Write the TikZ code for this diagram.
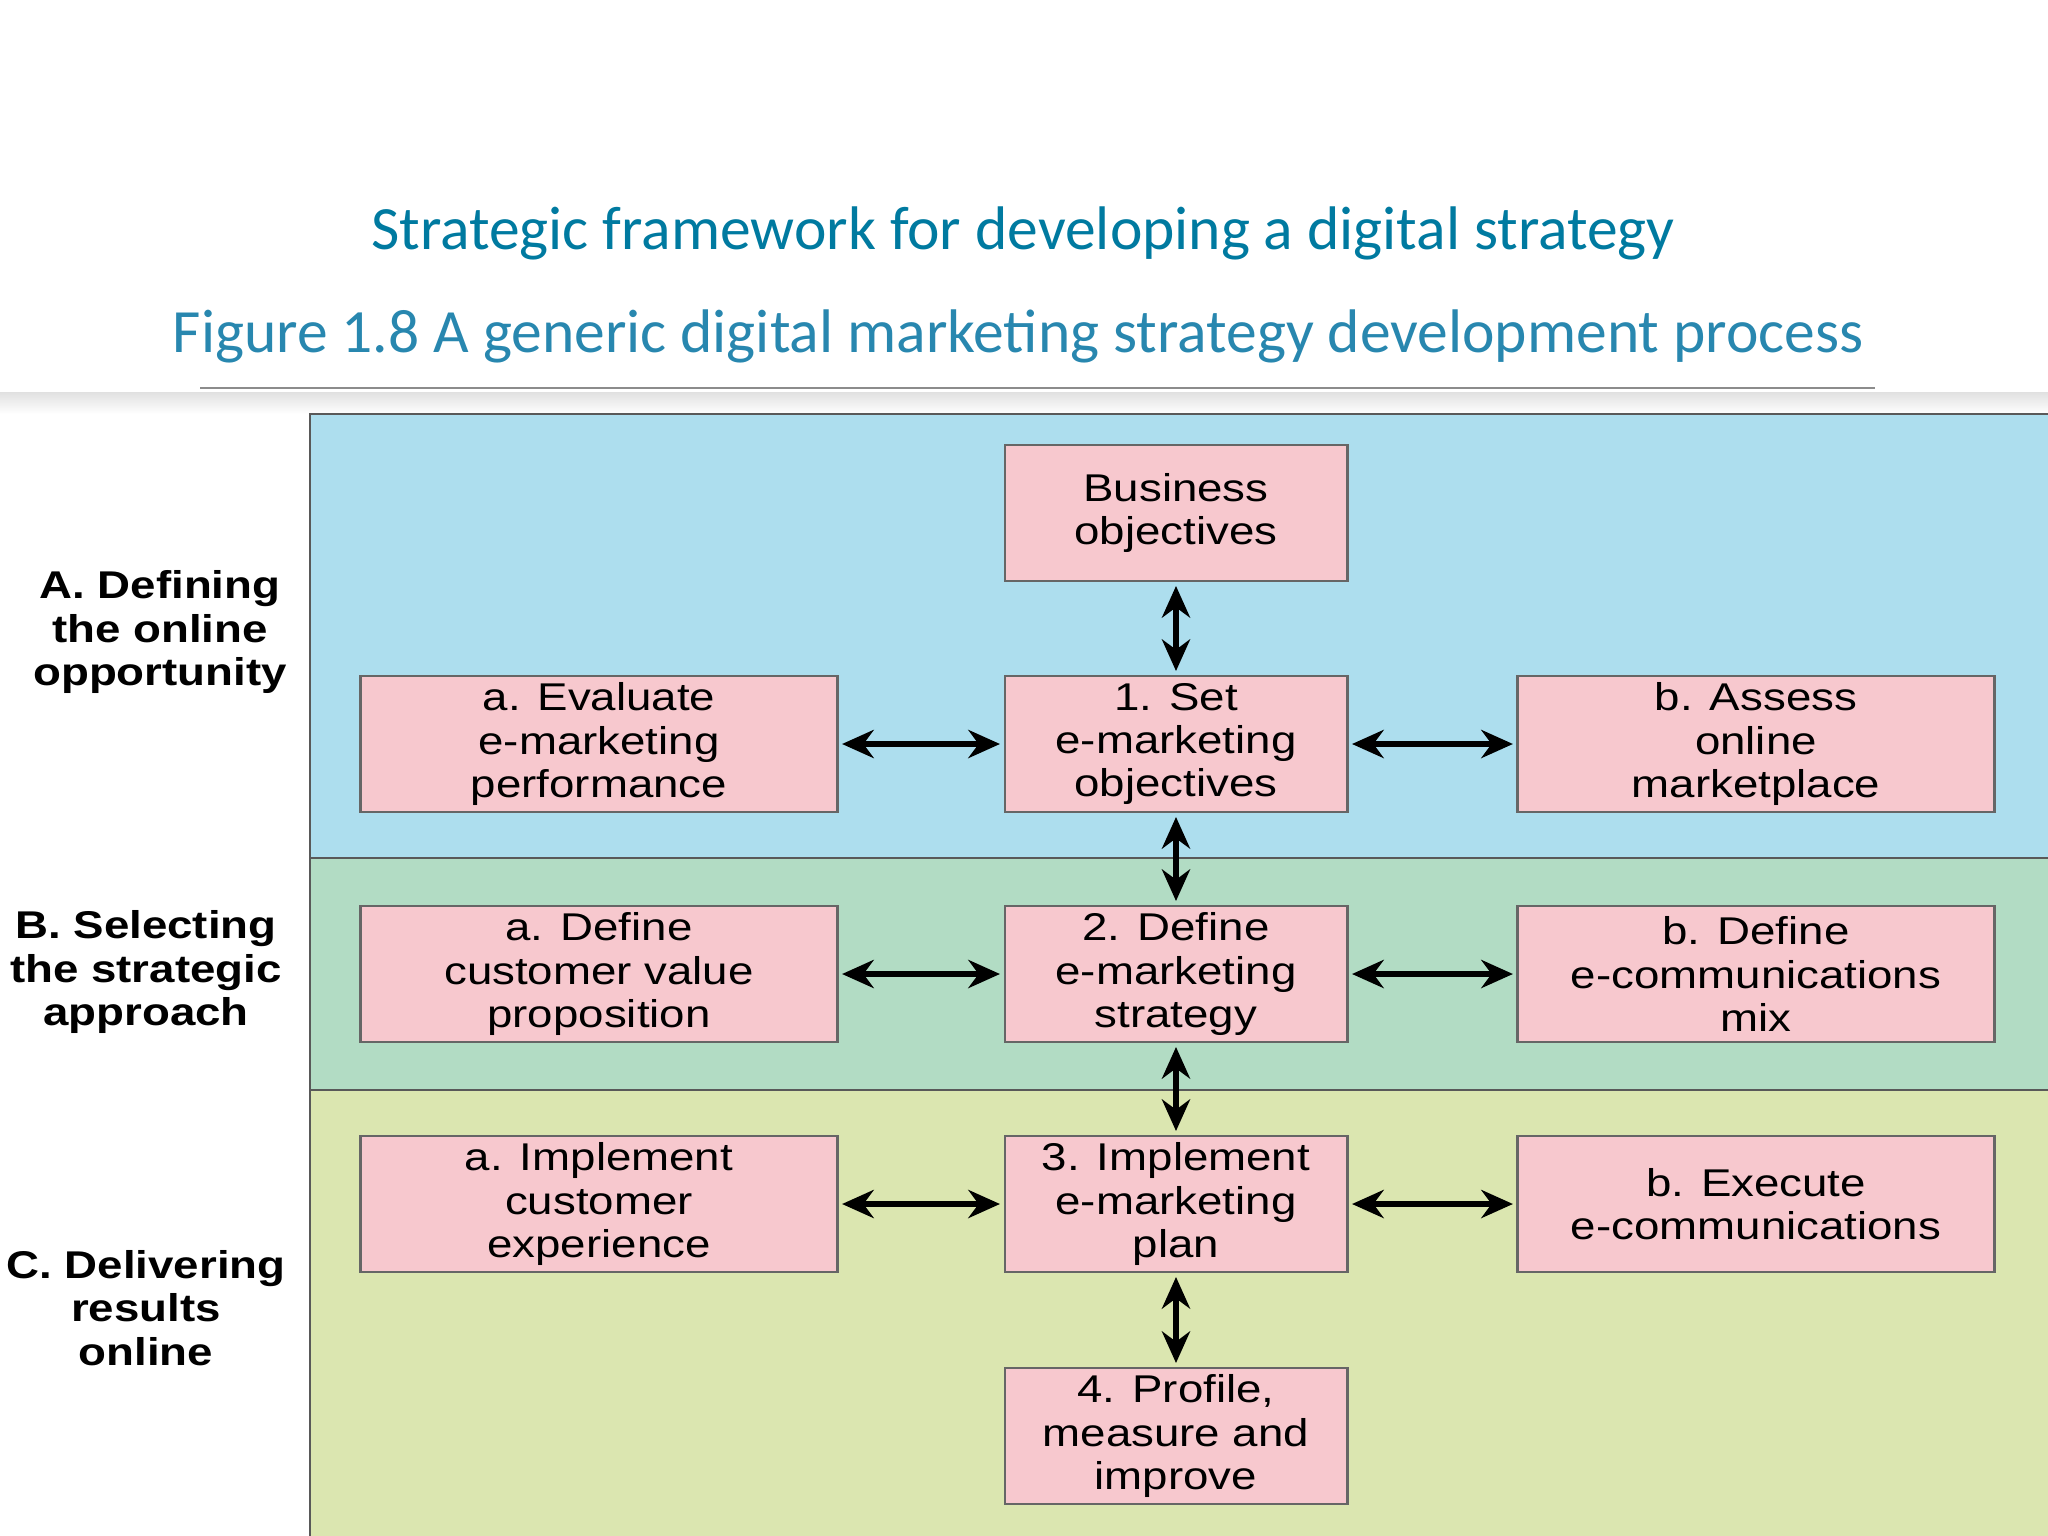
\documentclass[tikz,border=0pt]{standalone}
\usepackage{fontspec}
\setmainfont{Liberation Sans}[FakeStretch=1.18]
\newfontfamily\carlitofont{Carlito}
\usetikzlibrary{arrows.meta}
\definecolor{teal1}{RGB}{0,122,160}
\definecolor{teal2}{RGB}{40,135,175}
\definecolor{bA}{RGB}{173,222,238}
\definecolor{bB}{RGB}{178,220,196}
\definecolor{bC}{RGB}{219,230,176}
\definecolor{pk}{RGB}{247,200,206}
\begin{document}
\begin{tikzpicture}[x=0.01cm,y=-0.01cm,
 box/.style={draw=black!60,line width=0.8pt,fill=pk,minimum width=3.42cm,minimum height=1.36cm,align=center,inner sep=1pt,font=\fontsize{11}{12.3}\selectfont},
 wbox/.style={box,minimum width=4.76cm},
 lab/.style={align=center,font=\fontsize{11}{12.3}\selectfont\bfseries},
 arr/.style={{Stealth[length=9pt,width=8pt]}-{Stealth[length=9pt,width=8pt]},line width=1.6pt,shorten >=1pt,shorten <=1pt}]
\useasboundingbox (0,0) rectangle (2048,1536);
\node[font=\carlitofont\fontsize{17.5}{21}\selectfont,text=teal1] (t) at (1023,233) {Strategic framework for developing a digital strategy};
\node[font=\carlitofont\fontsize{17.5}{21}\selectfont,text=teal2] (st) at (1018,336) {Figure 1.8 A generic digital marketing strategy development process};
\draw[black!45,line width=0.8pt] (200,388) -- (1875,388);
\shade[top color=black!12,bottom color=white] (0,392) rectangle (2048,414);
\fill[bA] (310,414) rectangle (2048,858);
\fill[bB] (310,858) rectangle (2048,1090);
\fill[bC] (310,1090) rectangle (2048,1536);
\draw[black!65,line width=0.8pt] (2048,414) -- (310,414) -- (310,1536);
\draw[black!65,line width=0.8pt] (310,858) -- (2048,858) (310,1090) -- (2048,1090);
\node[box] (bo) at (1176,513) {Business\\objectives};
\node[wbox] (a1) at (599,744) {a. Evaluate\\e-marketing\\performance};
\node[box] (c1) at (1176,744) {1. Set\\e-marketing\\objectives};
\node[wbox] (b1) at (1756,744) {b. Assess\\online\\marketplace};
\node[wbox] (a2) at (599,974) {a. Define\\customer value\\proposition};
\node[box] (c2) at (1176,974) {2. Define\\e-marketing\\strategy};
\node[wbox] (b2) at (1756,974) {b. Define\\e-communications\\mix};
\node[wbox] (a3) at (599,1204) {a. Implement\\customer\\experience};
\node[box] (c3) at (1176,1204) {3. Implement\\e-marketing\\plan};
\node[wbox] (b3) at (1756,1204) {b. Execute\\e-communications};
\node[box] (c4) at (1176,1436) {4. Profile,\\measure and\\improve};
\node[lab] (la) at (160,632) {A. Defining\\the online\\opportunity};
\node[lab] (lb) at (146,972) {B. Selecting\\the strategic\\approach};
\node[lab] (lc) at (146,1308) {C. Delivering\\results\\online};
\draw[arr] (bo) -- (c1);
\draw[arr] (c1) -- (c2);
\draw[arr] (c2) -- (c3);
\draw[arr] (c3) -- (c4);
\foreach \i in {1,2,3}{\draw[arr] (a\i) -- (c\i); \draw[arr] (c\i) -- (b\i);}
\end{tikzpicture}
\end{document}
